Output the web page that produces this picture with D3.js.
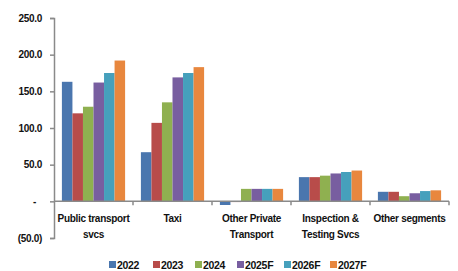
<!DOCTYPE html>
<html>
<head>
<meta charset="utf-8">
<script src="https://cdn.jsdelivr.net/npm/d3@7"></script>
<style>
  body { margin: 0; background: #fff; }
  text { font-family: "Liberation Sans", Arial, sans-serif; fill: #111; font-weight: bold; letter-spacing: -0.3px; }
</style>
</head>
<body>
<div id="chart"></div>
<script>
const categories = ['Public transport svcs', 'Taxi', 'Other Private Transport', 'Inspection & Testing Svcs', 'Other segments']
const categoryLines = [['Public transport', 'svcs'], ['Taxi'], ['Other Private', 'Transport'], ['Inspection &', 'Testing Svcs'], ['Other segments']]
const years = ['2022', '2023', '2024', '2025F', '2026F', '2027F']
const v2022 = [163, 67, -5, 33, 13]
const v2023 = [120, 107, -1, 33, 13]
const v2024 = [129, 135, 17, 35, 7]
const v2025 = [162, 169, 17, 38, 11]
const v2026 = [175, 175, 17, 40, 14]
const v2027 = [192, 183, 17, 42, 15]
const yTicks = [-50, 0, 50, 100, 150, 200, 250]
const colors = ['#4a76ae', '#b84c4a', '#8fb050', '#785ea0', '#46a0bc', '#e8873e']

const series = [v2022, v2023, v2024, v2025, v2026, v2027]

const width = 458
const height = 271
const margin = { top: 18, left: 54, right: 9, bottom: 33 }

const svg = d3.select('#chart')
  .append('svg')
  .attr('width', width)
  .attr('height', height)

const x = d3.scaleBand()
  .domain(categories)
  .range([margin.left, width - margin.right])

const barW = x.bandwidth() / 7.5
const xInner = d3.scaleBand()
  .domain(years)
  .range([barW * 0.75, x.bandwidth() - barW * 0.75])

const y = d3.scaleLinear()
  .domain([-50, 250])
  .range([238, 18])

// bars
years.forEach((yr, i) => {
  svg.append('g')
    .selectAll('rect')
    .data(series[i])
    .enter()
    .append('rect')
    .attr('x', (d, j) => x(categories[j]) + xInner(yr))
    .attr('width', xInner.bandwidth())
    .attr('y', d => y(Math.max(0, d)))
    .attr('height', d => Math.abs(y(d) - y(0)))
    .attr('fill', colors[i])
})

// y axis
const yAxis = svg.append('g')
  .attr('transform', `translate(${margin.left},0)`)
  .call(d3.axisLeft(y)
    .tickValues(yTicks)
    .tickSize(4)
    .tickFormat(d => d === 0 ? '-' : d < 0 ? `(${Math.abs(d).toFixed(1)})` : d.toFixed(1)))
yAxis.select('.domain').attr('stroke', '#8a8a8a').attr('stroke-width', 1.5)
yAxis.selectAll('.tick line').attr('stroke', '#8a8a8a').attr('stroke-width', 1.5)
yAxis.selectAll('.tick text')
  .attr('x', d => d === 0 ? -18 : -12)
  .style('font-size', '10px')
  .attr('fill', '#111')

// x axis at zero
const xAxis = svg.append('g')
  .attr('transform', `translate(0,${y(0)})`)
xAxis.append('line')
  .attr('x1', margin.left)
  .attr('x2', width - margin.right)
  .attr('stroke', '#8a8a8a')
  .attr('stroke-width', 1.5)
xAxis.selectAll('.sep')
  .data(categories)
  .enter()
  .append('line')
  .attr('x1', d => x(d) + x.bandwidth())
  .attr('x2', d => x(d) + x.bandwidth())
  .attr('y1', 0)
  .attr('y2', 4)
  .attr('stroke', '#8a8a8a')
  .attr('stroke-width', 1.5)

// category labels
svg.append('g')
  .selectAll('text')
  .data(categories)
  .enter()
  .append('text')
  .attr('text-anchor', 'middle')
  .style('font-size', '10px')
  .each(function (d, j) {
    const t = d3.select(this)
    categoryLines[j].forEach((line, k) => {
      t.append('tspan')
        .attr('x', x(d) + x.bandwidth() / 2)
        .attr('y', 222 + k * 16)
        .text(line)
    })
  })

// legend
const legendX = [109, 153, 195, 237, 284, 330]
const legend = svg.append('g')
  .selectAll('g')
  .data(years)
  .enter()
  .append('g')
  .attr('transform', (d, i) => `translate(${legendX[i]},261)`)
legend.append('rect')
  .attr('width', 7)
  .attr('height', 7)
  .attr('fill', (d, i) => colors[i])
legend.append('text')
  .attr('x', 8)
  .attr('y', 7.5)
  .style('font-size', '10.5px')
  .text(d => d)
</script>
</body>
</html>
